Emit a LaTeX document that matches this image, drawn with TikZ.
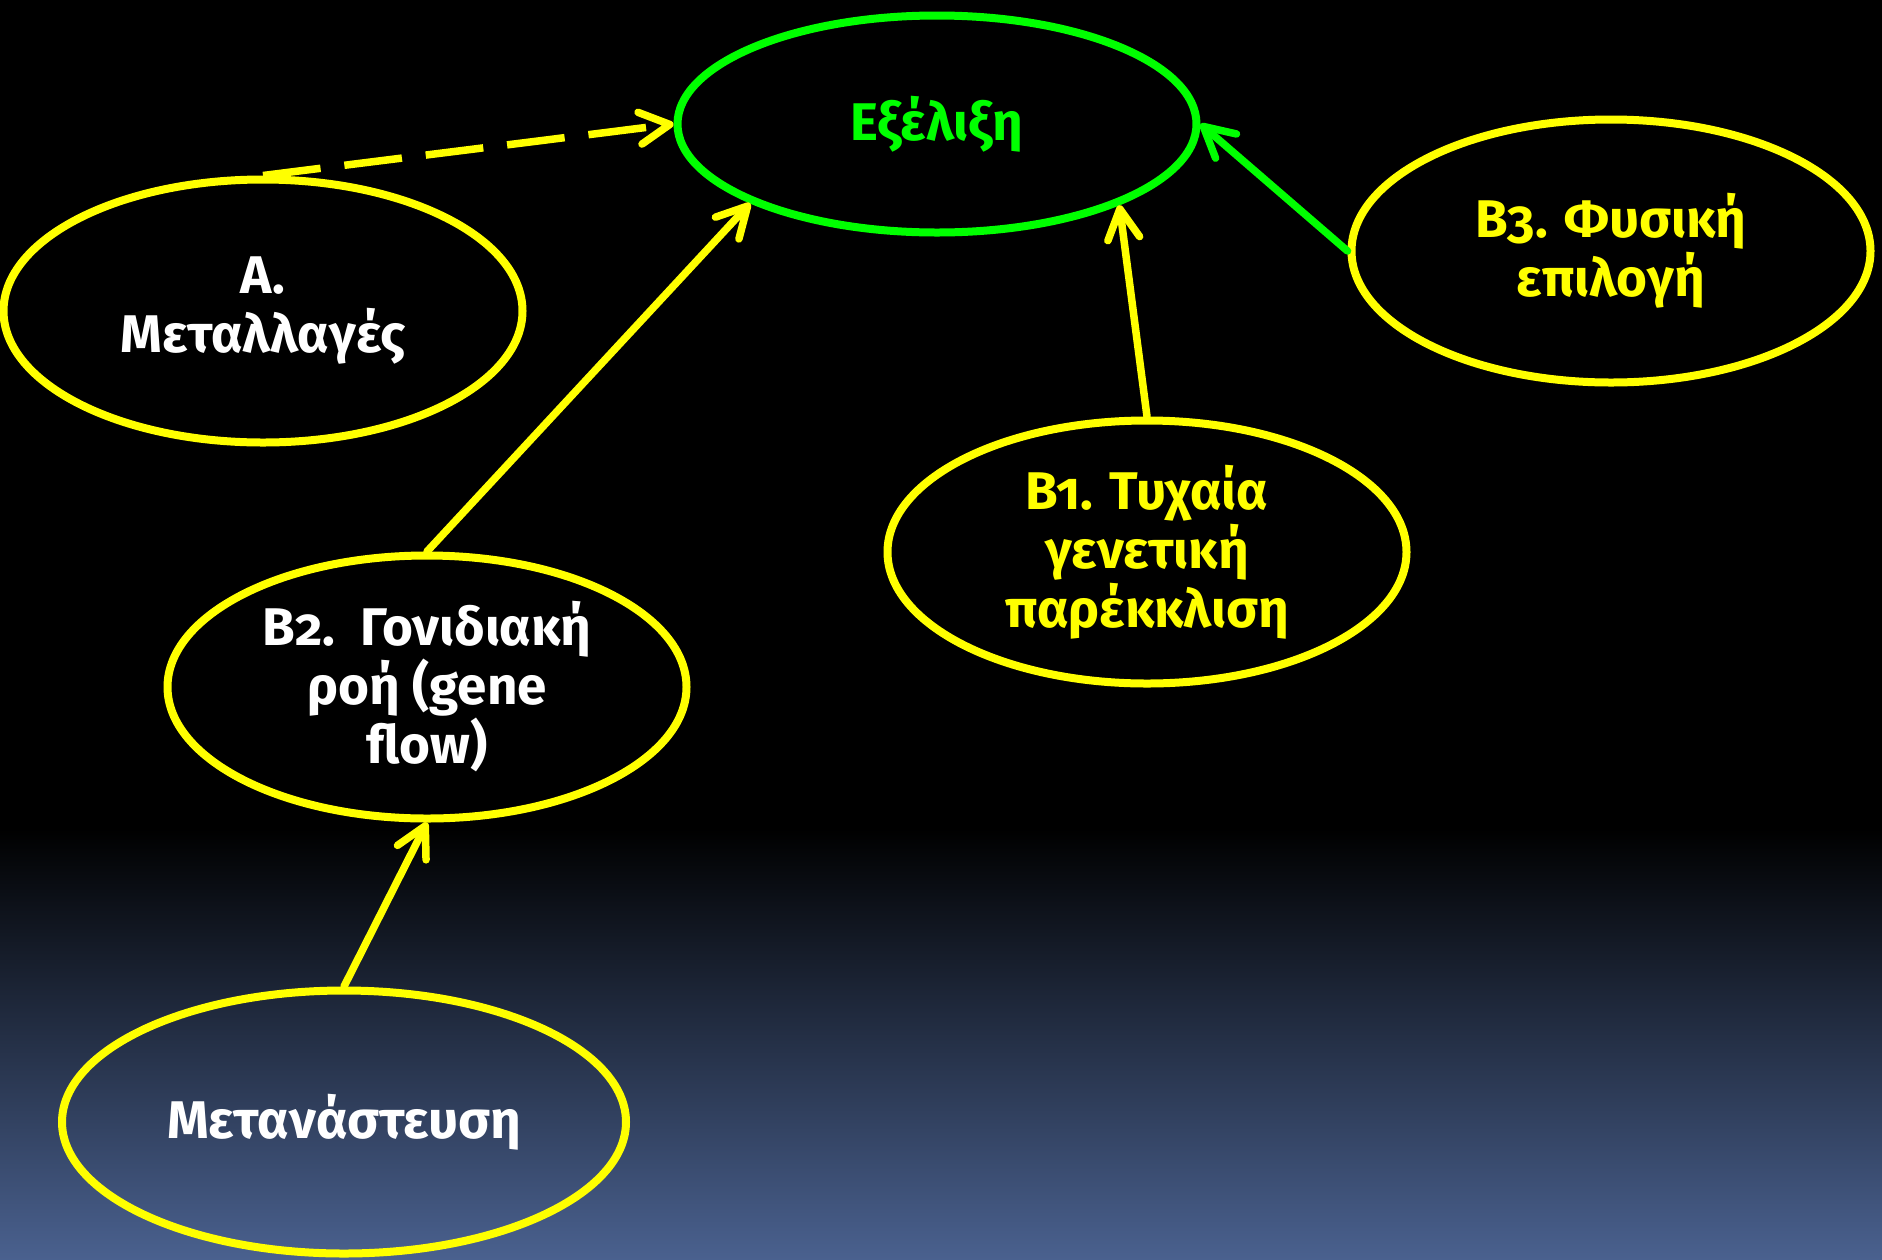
\documentclass[tikz,border=0pt]{standalone}
\usepackage{fontspec}
\setmainfont{Fira Sans}[Numbers=OldStyle]
\usepackage{tikz}
\usetikzlibrary{shapes.geometric}
\usetikzlibrary{arrows.meta}
\definecolor{ffffqq}{rgb}{1.,1.,0.}
\definecolor{qqffqq}{rgb}{0.,1.,0.}
\definecolor{slideblue}{rgb}{0.29,0.38,0.56}
\tikzstyle{every node}=[font=\fontsize{53}{59}\selectfont\bfseries]
\tikzset{
  bubble/.style={ellipse,draw=ffffqq,line width=8pt,inner sep=0pt,align=center,
    minimum width=519pt,minimum height=263pt},
  link/.style={-{Straight Barb[round,length=30pt,width=32pt]},line width=7.5pt,color=ffffqq},
}

\begin{document}
\begin{tikzpicture}[line cap=round,line join=round,x=1pt,y=-1pt]
                \useasboundingbox (0,0) rectangle (1882,1259);
                % background of the slide
                \fill[black] (0,0) rectangle (1882,1259);
                \shade[top color=black,bottom color=slideblue] (0,828) rectangle (1882,1259);
                % the ellipses
                \node[bubble,draw=qqffqq,text=qqffqq,minimum height=217pt] (evo) at (937,124) {Εξέλιξη};
                \node[bubble,text=white] (mut) at (263,311) {Α.\\Μεταλλαγές};
                \node[bubble,text=ffffqq] (sel) at (1611,251) {Β3. Φυσική\\επιλογή};
                \node[bubble,text=ffffqq] (drift) at (1147,552) {Β1. Τυχαία\\γενετική\\παρέκκλιση};
                \node[bubble,text=white] (flow) at (427,687) {Β2.\ \ Γονιδιακή\\ροή (gene\\flow)};
                \node[bubble,text=white,minimum width=564pt] (mig) at (344,1122) {Μετανάστευση};
                % the arrows
                \draw[link,line cap=butt,dash pattern=on 58pt off 24pt] (mut.north) -- (evo.west);
                \draw[link] (flow.north) -- (evo.203);
                \draw[link] (drift.north) -- (evo.336);
                \draw[link,color=qqffqq] (sel.west) -- (evo.east);
                \draw[link] (mig.north) -- (flow.south);
\end{tikzpicture}
\end{document}
